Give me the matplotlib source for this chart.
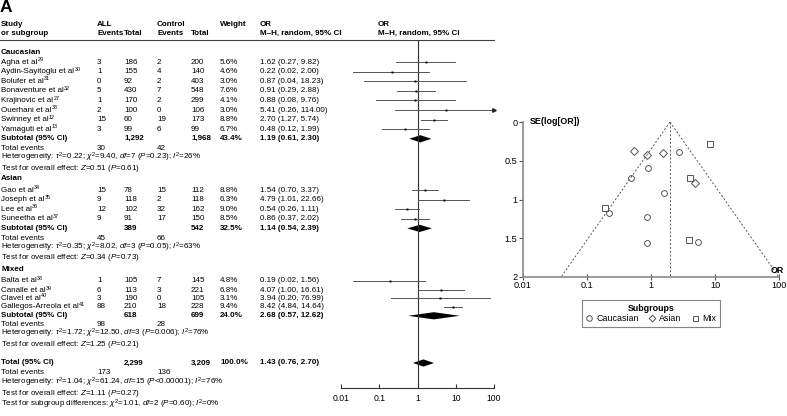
import numpy as np
import matplotlib
matplotlib.use("Agg")
from matplotlib import pyplot as plt
from matplotlib.lines import Line2D

plt.rcParams["font.family"] = ["Liberation Sans", "DejaVu Sans"]
plt.rcParams["mathtext.fontset"] = "custom"
plt.rcParams["mathtext.rm"] = "Liberation Sans"
plt.rcParams["mathtext.it"] = "Liberation Sans:italic"
plt.rcParams["mathtext.bf"] = "Liberation Sans:bold"

# ---- data ----
cau_names = ["Agha et al", "Aydin-Sayitoglu et al", "Bolufer et al", "Bonaventure et al",
             "Krajinovic et al", "Ouerhani et al", "Swinney et al", "Yamaguti et al"]
cau_refs = [29, 30, 31, 32, 27, 33, 12, 13]
cau_all_ev = [3, 1, 0, 5, 1, 2, 15, 3]
cau_all_n = [186, 155, 92, 430, 170, 100, 60, 99]
cau_ctl_ev = [2, 4, 2, 7, 2, 0, 19, 6]
cau_ctl_n = [200, 140, 403, 548, 299, 106, 173, 99]
cau_w = [5.6, 4.6, 3.0, 7.6, 4.1, 3.0, 8.8, 6.7]
cau_or = [1.62, 0.22, 0.87, 0.91, 0.88, 5.41, 2.70, 0.48]
cau_lo = [0.27, 0.02, 0.04, 0.29, 0.08, 0.26, 1.27, 0.12]
cau_hi = [9.82, 2.00, 18.23, 2.88, 9.76, 114.00, 5.74, 1.99]
cau_se = [0.92, 1.17, 1.56, 0.59, 1.23, 1.55, 0.39, 0.72]

asi_names = ["Gao et al", "Joseph et al", "Lee et al", "Suneetha et al"]
asi_refs = [34, 35, 36, 37]
asi_all_ev = [15, 9, 12, 9]
asi_all_n = [78, 118, 102, 91]
asi_ctl_ev = [15, 2, 32, 17]
asi_ctl_n = [112, 118, 162, 150]
asi_w = [8.8, 6.3, 9.0, 8.5]
asi_or = [1.54, 4.79, 0.54, 0.86]
asi_lo = [0.70, 1.01, 0.26, 0.37]
asi_hi = [3.37, 22.66, 1.11, 2.02]
asi_se = [0.40, 0.79, 0.37, 0.43]

mix_names = ["Balta et al", "Canalle et al", "Clavel et al", "Gallegos-Arreola et al"]
mix_refs = [38, 39, 40, 41]
mix_all_ev = [1, 6, 3, 88]
mix_all_n = [105, 113, 190, 210]
mix_ctl_ev = [7, 3, 0, 18]
mix_ctl_n = [145, 221, 105, 228]
mix_w = [4.8, 6.8, 3.1, 9.4]
mix_or = [0.19, 4.07, 3.94, 8.42]
mix_lo = [0.02, 1.00, 0.20, 4.84]
mix_hi = [1.56, 16.61, 76.99, 14.64]
mix_se = [1.11, 0.72, 1.52, 0.28]

group_names = ["Caucasian", "Asian", "Mixed"]
sub_all_n = [1292, 389, 618]
sub_ctl_n = [1968, 542, 699]
sub_w = [43.4, 32.5, 24.0]
sub_or = [1.19, 1.14, 2.68]
sub_lo = [0.61, 0.54, 0.57]
sub_hi = [2.30, 2.39, 12.62]
sub_all_ev = [30, 45, 98]
sub_ctl_ev = [42, 66, 28]
sub_het = [r"Heterogeneity: $\tau^2$=0.22; $\chi^2$=9.40, $df$=7 ($P$=0.23); $I^2$=26%",
           r"Heterogeneity: $\tau^2$=0.35; $\chi^2$=8.02, $df$=3 ($P$=0.05); $I^2$=63%",
           r"Heterogeneity: $\tau^2$=1.72; $\chi^2$=12.50, $df$=3 ($P$=0.006); $I^2$=76%"]
sub_test = [r"Test for overall effect: $Z$=0.51 ($P$=0.61)",
            r"Test for overall effect: $Z$=0.34 ($P$=0.73)",
            r"Test for overall effect: $Z$=1.25 ($P$=0.21)"]

tot_all_n, tot_ctl_n, tot_w = 2299, 3209, 100.0
tot_or, tot_lo, tot_hi = 1.43, 0.76, 2.70
tot_all_ev, tot_ctl_ev = 173, 136
tot_het = r"Heterogeneity: $\tau^2$=1.04; $\chi^2$=61.24, $df$=15 ($P$<0.00001); $I^2$=76%"
tot_test = r"Test for overall effect: $Z$=1.11 ($P$=0.27)"
tot_sub = r"Test for subgroup differences: $\chi^2$=1.01, $df$=2 ($P$=0.60); $I^2$=0%"

funnel_center = 1.98

# ---- layout (pixel rows) ----
W, H = 787, 416
rows_study = [[62, 71.6, 81.2, 90.8, 100.4, 110, 119.6, 129.2],
              [190, 199.6, 209.2, 218.8],
              [281, 290.4, 298, 306.8]]
rows_head = [52, 179, 269.5]
rows_sub = [138.8, 228.4, 315.8]
rows_te = [148.4, 238, 324.8]
rows_het = [157.6, 247.2, 333.6]
rows_test = [169.0, 257.8, 344.4]
row_tot, row_tot_te, row_tot_het, row_tot_test, row_tot_sub = 363, 373, 382.2, 393.2, 404.4
cx = dict(study=1, aev=97, an=124, cev=157, cn=191, w=220, ortxt=260, orplot=378)
fs = 5.8

fig = plt.figure(figsize=(W / 100, H / 100), dpi=100)
tx = fig.add_axes([0, 0, 1, 1])
tx.set_xlim(0, W)
tx.set_ylim(H, 0)
tx.axis("off")
renderer = fig.canvas.get_renderer()

def t(x, y, s, bold=False, **kw):
    return tx.text(x, y, s, fontsize=kw.pop("size", fs), fontweight="bold" if bold else "normal",
                   va="center", ha="left", **kw)

def name_with_ref(x, y, name, ref):
    txt = t(x, y, name)
    bb = txt.get_window_extent(renderer)
    x_end = tx.transData.inverted().transform((bb.x1, bb.y0))[0]
    t(x_end + 0.4, y - 2.4, str(ref), size=3.9)

t(0, 7, "A", bold=True, size=12.5)
t(cx["study"], 24, "Study", True); t(cx["study"], 33.5, "or subgroup", True)
t(cx["aev"], 24, "ALL", True); t(cx["aev"], 33.5, "Events", True); t(cx["an"], 33.5, "Total", True)
t(cx["cev"], 24, "Control", True); t(cx["cev"], 33.5, "Events", True); t(cx["cn"], 33.5, "Total", True)
t(cx["w"], 24, "Weight", True)
t(cx["ortxt"], 24, "OR", True); t(cx["ortxt"], 33.5, "M\u2013H, random, 95% CI", True)
t(cx["orplot"], 24, "OR", True); t(cx["orplot"], 33.5, "M\u2013H, random, 95% CI", True)
tx.plot([0, 494], [40, 40], color="#444444", lw=0.8)

# forest axes
fx0, fx1, fy0, fy1 = 341, 494, 40, 388
fa = fig.add_axes([fx0 / W, (H - fy1) / H, (fx1 - fx0) / W, (fy1 - fy0) / H])
fa.set_xscale("log")
fa.set_xlim(0.01, 100)
fa.set_ylim(fy1, fy0)
fa.patch.set_alpha(0)
for s in ["top", "left", "right"]:
    fa.spines[s].set_visible(False)
fa.spines["bottom"].set_color("#333333")
fa.spines["bottom"].set_linewidth(0.8)
fa.set_yticks([])
fa.set_xticks([0.01, 0.1, 1, 10, 100])
fa.set_xticklabels(["0.01", "0.1", "1", "10", "100"])
fa.xaxis.set_minor_locator(matplotlib.ticker.NullLocator())
fa.tick_params(axis="x", direction="in", length=3, width=0.8, labelsize=6.2, pad=4, color="#333333")
fa.axvline(1, color="#333333", lw=0.8)

def diamond(est, lo, hi, y, h=3.6):
    fa.fill([lo, est, hi, est], [y, y - h, y, y + h], color="black", lw=0)

groups = [
    (cau_names, cau_refs, cau_all_ev, cau_all_n, cau_ctl_ev, cau_ctl_n, cau_w, cau_or, cau_lo, cau_hi),
    (asi_names, asi_refs, asi_all_ev, asi_all_n, asi_ctl_ev, asi_ctl_n, asi_w, asi_or, asi_lo, asi_hi),
    (mix_names, mix_refs, mix_all_ev, mix_all_n, mix_ctl_ev, mix_ctl_n, mix_w, mix_or, mix_lo, mix_hi),
]
for g, (names, refs, aev, an, cev, cn, w, o, lo, hi) in enumerate(groups):
    t(cx["study"], rows_head[g], group_names[g], True)
    for i, y in enumerate(rows_study[g]):
        name_with_ref(cx["study"], y, names[i], refs[i])
        t(cx["aev"], y, str(aev[i]))
        t(cx["an"], y, str(an[i]))
        t(cx["cev"], y, str(cev[i]))
        t(cx["cn"], y, str(cn[i]))
        t(cx["w"], y, f"{w[i]:.1f}%")
        t(cx["ortxt"], y, f"{o[i]:.2f} ({lo[i]:.2f}, {hi[i]:.2f})")
        right = min(hi[i], 100)
        fa.plot([lo[i], right], [y, y], color="#555555", lw=0.7, clip_on=False)
        if hi[i] > 100:
            fa.plot(100, y, marker=">", ms=2.5, color="#222222", clip_on=False)
        fa.plot(o[i], y, marker="s", ms=1.4, color="black", mew=0)
    ys = rows_sub[g]
    t(cx["study"], ys, "Subtotal (95% CI)", True)
    t(cx["an"], ys, f"{sub_all_n[g]:,}", True)
    t(cx["cn"], ys, f"{sub_ctl_n[g]:,}", True)
    t(cx["w"], ys, f"{sub_w[g]:.1f}%", True)
    t(cx["ortxt"], ys, f"{sub_or[g]:.2f} ({sub_lo[g]:.2f}, {sub_hi[g]:.2f})", True)
    diamond(sub_or[g], sub_lo[g], sub_hi[g], ys)
    t(cx["study"], rows_te[g], "Total events")
    t(cx["aev"], rows_te[g], str(sub_all_ev[g]))
    t(cx["cev"], rows_te[g], str(sub_ctl_ev[g]))
    t(cx["study"], rows_het[g], sub_het[g])
    t(cx["study"], rows_test[g], sub_test[g])

t(cx["study"], row_tot, "Total (95% CI)", True)
t(cx["an"], row_tot, f"{tot_all_n:,}", True)
t(cx["cn"], row_tot, f"{tot_ctl_n:,}", True)
t(cx["w"], row_tot, f"{tot_w:.1f}%", True)
t(cx["ortxt"], row_tot, f"{tot_or:.2f} ({tot_lo:.2f}, {tot_hi:.2f})", True)
diamond(tot_or, tot_lo, tot_hi, row_tot)
t(cx["study"], row_tot_te, "Total events")
t(cx["aev"], row_tot_te, str(tot_all_ev))
t(cx["cev"], row_tot_te, str(tot_ctl_ev))
t(cx["study"], row_tot_het, tot_het)
t(cx["study"], row_tot_test, tot_test)
t(cx["study"], row_tot_sub, tot_sub)

# funnel plot
px0, px1, py0, py1 = 523, 779, 122, 277
pa = fig.add_axes([px0 / W, (H - py1) / H, (px1 - px0) / W, (py1 - py0) / H])
pa.set_xscale("log")
pa.set_xlim(0.01, 100)
pa.set_ylim(2, 0)
pa.patch.set_alpha(0)
for s in ["top", "right"]:
    pa.spines[s].set_visible(False)
for s in ["left", "bottom"]:
    pa.spines[s].set_color("#8a8a8a")
    pa.spines[s].set_linewidth(1.2)
pa.set_xticks([0.01, 0.1, 1, 10, 100])
pa.set_xticklabels(["0.01", "0.1", "1", "10", "100"])
pa.xaxis.set_minor_locator(matplotlib.ticker.NullLocator())
pa.set_yticks([0, 0.5, 1, 1.5, 2])
pa.set_yticklabels(["0", "0.5", "1", "1.5", "2"])
pa.tick_params(axis="x", direction="inout", length=4, width=0.8, labelsize=6.6, pad=1, color="#555555")
pa.tick_params(axis="y", direction="out", length=3, width=0.8, labelsize=6.6, pad=1, color="#555555")

se_line = np.array([0, 2])
dash = dict(color="#555555", lw=0.7, ls=(0, (2, 2)))
pa.plot(funnel_center * np.exp(-1.96 * se_line), se_line, **dash)
pa.plot(funnel_center * np.exp(1.96 * se_line), se_line, **dash)
pa.plot([funnel_center, funnel_center], [0, 2], **dash)

mk = dict(ls="none", mfc="none", mec="#555555", mew=0.7)
pa.plot(cau_or, cau_se, marker="o", ms=4.2, **mk)
pa.plot(asi_or, asi_se, marker="D", ms=3.6, **mk)
pa.plot(mix_or, mix_se, marker="s", ms=3.8, **mk)

pa.text(0.025, 1.0, "SE(log[OR])", transform=pa.transAxes, fontsize=6.4, fontweight="bold",
        va="center", ha="left")
pa.text(1.02, 0.045, "OR", transform=pa.transAxes, fontsize=6.4, fontweight="bold",
        va="center", ha="right")

handles = [Line2D([], [], marker="o", ms=4, **mk), Line2D([], [], marker="D", ms=3.4, **mk),
           Line2D([], [], marker="s", ms=3.6, **mk)]
leg = pa.legend(handles, ["Caucasian", "Asian", "Mix"], title="Subgroups", ncol=3,
                loc="upper center", bbox_to_anchor=(0.5, -0.12), fontsize=6.4,
                title_fontproperties={"weight": "bold", "size": 6.4}, frameon=True,
                fancybox=False, handlelength=0.8, handletextpad=0.4, columnspacing=1.1,
                borderpad=0.4, labelspacing=0.2)
leg.get_frame().set_edgecolor("#666666")
leg.get_frame().set_linewidth(0.8)

fig.savefig("out.png", dpi=100)
